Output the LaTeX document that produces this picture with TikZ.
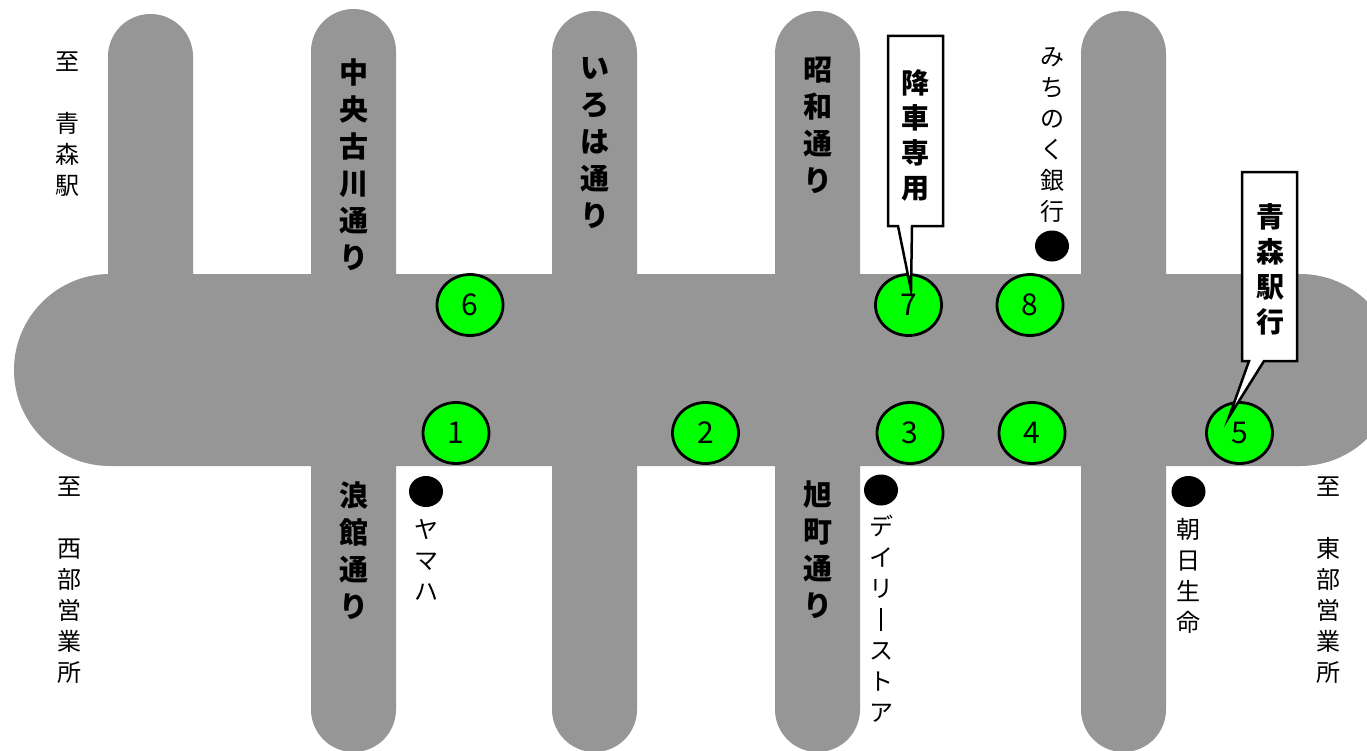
\documentclass[tikz,border=0pt]{standalone}
\usepackage{fontspec}
\setmainfont{Noto Sans CJK JP}
\usetikzlibrary{shapes.geometric}
\definecolor{roadgray}{RGB}{150,150,150}
\definecolor{stopgreen}{RGB}{0,255,0}
\newcommand{\vbar}{\rule[-2.5bp]{1.8bp}{23bp}}
\begin{document}
\begin{tikzpicture}[x=1bp,y=-1bp,
  road/.style={fill=roadgray},
  stopmark/.style={ellipse, draw=black, line width=2.8bp, fill=stopgreen,
    minimum width=66bp, minimum height=61bp, inner sep=0pt,
    font=\fontsize{30bp}{30bp}\selectfont},
  dotmark/.style={ellipse, fill=black, minimum width=34bp, minimum height=31bp, inner sep=0pt},
  vlab/.style={align=center, inner sep=0pt, font=\fontsize{24bp}{31bp}\selectfont},
  roadname/.style={align=center, inner sep=0pt, font=\bfseries\fontsize{29bp}{37bp}\selectfont},
  boxtext/.style={align=center, inner sep=0pt, font=\bfseries\fontsize{28bp}{35bp}\selectfont},
  callout/.style={fill=white, draw=black, line width=2.5bp, line join=miter},
]
\useasboundingbox (0,0) rectangle (1367,750);
\clip (0,0) rectangle (1367,750);
\fill[white] (0,0) rectangle (1367,750);

% roads
\fill[road, rounded corners=96bp] (14,274) rectangle (1396,466);
\fill[road, rounded corners=42.5bp] (108,14) rectangle (193,370);
\fill[road, rounded corners=42.5bp] (311,9) rectangle (396,370);
\fill[road, rounded corners=42.5bp] (552,11) rectangle (637,370);
\fill[road, rounded corners=42.5bp] (775,11) rectangle (860,370);
\fill[road, rounded corners=42.5bp] (1081,11) rectangle (1166,370);
\fill[road, rounded corners=42.5bp] (311,370) rectangle (396,752);
\fill[road, rounded corners=42.5bp] (552,370) rectangle (637,752);
\fill[road, rounded corners=42.5bp] (775,370) rectangle (860,752);
\fill[road, rounded corners=42.5bp] (1081,370) rectangle (1166,752);

% bus stops
\node[stopmark] (s6) at (470,305) {6};
\node[stopmark] (s7) at (908.5,305) {7};
\node[stopmark] (s8) at (1030,305) {8};
\node[stopmark] (s1) at (456,433) {1};
\node[stopmark] (s2) at (705.5,433) {2};
\node[stopmark] (s3) at (910,433) {3};
\node[stopmark] (s4) at (1032,433) {4};
\node[stopmark] (s5) at (1239.5,433) {5};

% landmarks
\node[dotmark] (d1) at (1052,246) {};
\node[dotmark] (d2) at (426,491.5) {};
\node[dotmark] (d3) at (881,490) {};
\node[dotmark] (d4) at (1188.5,491.5) {};

% callouts
\coordinate (tip7) at (911,290);
\coordinate (tip5) at (1229,417);
\draw[callout] (888,36) -- (943,36) -- (943,226) -- (912,226) -- (tip7) -- (898,226) -- (888,226) -- cycle;
\draw[callout] (1242,172) -- (1297,172) -- (1297,361) -- (1264,361) -- (tip5) -- (1249,361) -- (1242,361) -- cycle;
\node[boxtext] (b7) at (915.5,135) {降\\車\\専\\用};
\node[boxtext] (b5) at (1270,269) {青\\森\\駅\\行};

% road names
\node[roadname] (r1) at (353.5,164.5) {中\\央\\古\\川\\通\\り};
\node[roadname] (r2) at (594.5,143) {い\\ろ\\は\\通\\り};
\node[roadname] (r3) at (817.5,125.5) {昭\\和\\通\\り};
\node[roadname] (r4) at (354,550.5) {浪\\館\\通\\り};
\node[roadname] (r5) at (817.5,549.5) {旭\\町\\通\\り};

% labels
\node[vlab] (t1) at (67,124) {至\\[31bp]青\\森\\駅};
\node[vlab] (t2) at (69,580) {至\\[31bp]西\\部\\営\\業\\所};
\node[vlab] (t3) at (1328,580) {至\\[31bp]東\\部\\営\\業\\所};
\node[vlab] (t4) at (1052,135) {み\\ち\\の\\く\\銀\\行};
\node[vlab] (t5) at (426,559.5) {ヤ\\マ\\ハ};
\node[vlab] (t6) at (881,619) {デ\\イ\\リ\\\vbar\\ス\\ト\\ア};
\node[vlab] (t7) at (1188.5,575.5) {朝\\日\\生\\命};
\end{tikzpicture}
\end{document}
